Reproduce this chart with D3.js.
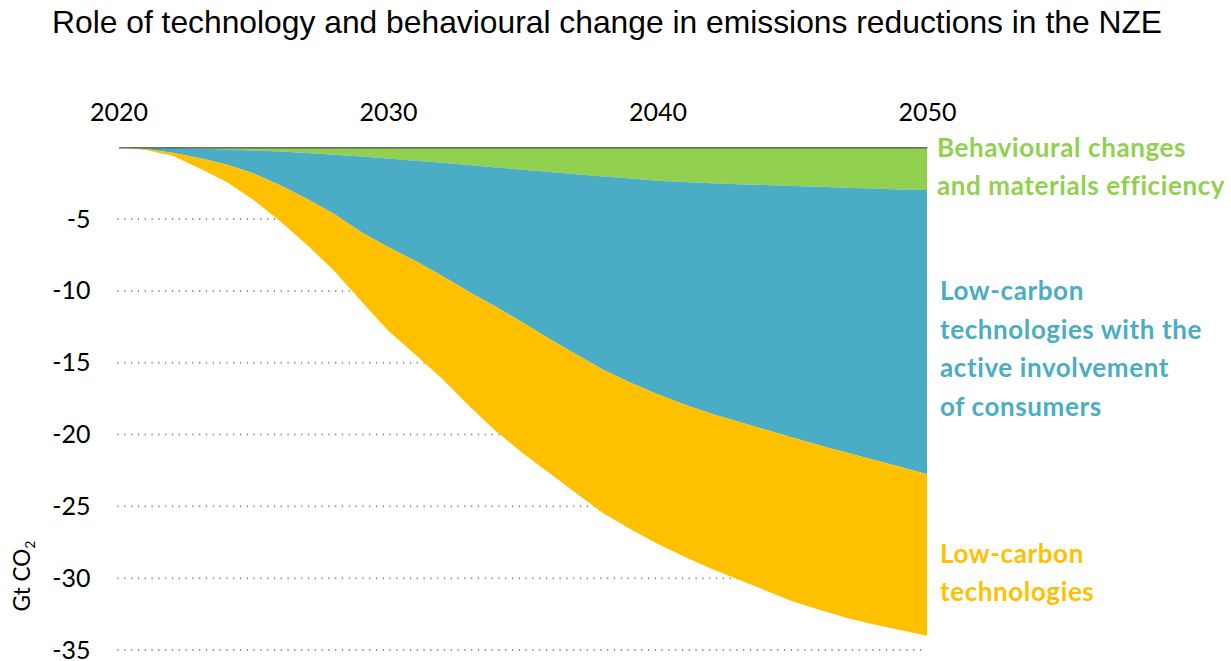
<!DOCTYPE html>
<html>
<head>
<meta charset="utf-8">
<script src="https://cdn.jsdelivr.net/npm/d3@7"></script>
<style>
  html, body { margin: 0; padding: 0; background: #fff; }
  svg { display: block; }
</style>
</head>
<body>
<svg id="chart" width="1231" height="661"></svg>
<script>
// Years covered by the scenario
const years = d3.range(2020, 2051);

// Annual emissions reductions by lever (Gt CO2, negative = reduction)
const behaviouralChanges = [0, -0.02, -0.05, -0.09, -0.15, -0.22, -0.30, -0.40, -0.52, -0.64, -0.78,
  -0.93, -1.08, -1.24, -1.40, -1.56, -1.72, -1.88, -2.03, -2.18, -2.33,
  -2.42, -2.50, -2.57, -2.63, -2.69, -2.75, -2.81, -2.87, -2.93, -2.98];
const consumerTechnologies = [0, -0.10, -0.33, -0.66, -1.04, -1.59, -2.35, -3.20, -4.13, -5.26, -6.17,
  -6.97, -7.87, -8.81, -9.70, -10.64, -11.63, -12.57, -13.47, -14.22, -14.87,
  -15.48, -16.05, -16.53, -17.02, -17.51, -18.00, -18.44, -18.88, -19.32, -19.79];
const lowCarbonTechnologies = [0, -0.06, -0.20, -0.70, -1.21, -1.84, -2.50, -3.20, -3.95, -4.80, -5.80,
  -6.50, -7.15, -7.95, -8.65, -9.10, -9.35, -9.65, -10.00, -10.20, -10.40,
  -10.60, -10.80, -11.00, -11.20, -11.40, -11.45, -11.50, -11.45, -11.35, -11.23];

// Axis ticks
const yearTicks = [2020, 2030, 2040, 2050];
const valueTicks = [-5, -10, -15, -20, -25, -30, -35];

// Series names, colours and label lines
const seriesKeys = ["behaviour", "consumer", "technology"];
const seriesColors = { behaviour: "#92d050", consumer: "#4bacc6", technology: "#ffc000" };
const seriesLabels = {
  behaviour: ["Behavioural changes", "and materials efficiency"],
  consumer: ["Low-carbon", "technologies with the", "active involvement", "of consumers"],
  technology: ["Low-carbon", "technologies"]
};

const rows = years.map((yr, i) => ({
  year: yr,
  behaviour: behaviouralChanges[i],
  consumer: consumerTechnologies[i],
  technology: lowCarbonTechnologies[i]
}));

const svg = d3.select("#chart");

const x = d3.scaleLinear().domain([2020, 2050]).range([118.5, 927]);
const y = d3.scaleLinear().domain([0, -35]).range([147.3, 650]);

// Title
svg.append("text")
  .attr("x", 52).attr("y", 33)
  .attr("font-family", "'Liberation Sans', Arial, sans-serif")
  .attr("font-size", 31.8)
  .attr("fill", "#000")
  .text("Role of technology and behavioural change in emissions reductions in the NZE");

// Dotted horizontal gridlines
svg.append("g")
  .selectAll("line")
  .data(valueTicks)
  .join("line")
  .attr("x1", x(2020) - 1).attr("x2", x(2050) - 2)
  .attr("y1", d => y(d)).attr("y2", d => y(d))
  .attr("stroke", "#8c8c8c")
  .attr("stroke-width", 2)
  .attr("stroke-dasharray", "1.2 5.6");

// Stacked areas
const stack = d3.stack().keys(seriesKeys).offset(d3.stackOffsetDiverging);
const layers = stack(rows);
const area = d3.area()
  .x(d => x(d.data.year))
  .y0(d => y(d[0]))
  .y1(d => y(d[1]));

svg.append("g")
  .selectAll("path")
  .data(layers)
  .join("path")
  .attr("fill", d => seriesColors[d.key])
  .attr("d", area);

// Top year axis
const xAxis = svg.append("g")
  .attr("transform", `translate(0,${y(0)})`)
  .call(d3.axisTop(x).tickValues(yearTicks).tickFormat(d3.format("d")).tickSize(0).tickPadding(26));
xAxis.select(".domain").attr("stroke", "#555").attr("stroke-width", 1.3);
xAxis.selectAll("text")
  .attr("font-family", "Lato, 'Open Sans', sans-serif")
  .attr("font-size", 25)
  .attr("fill", "#000");

// Left value axis
const yAxis = svg.append("g")
  .attr("transform", `translate(${x(2020)},0)`)
  .call(d3.axisLeft(y).tickValues(valueTicks).tickFormat(d => String(d)).tickSize(0).tickPadding(28));
yAxis.select(".domain").remove();
yAxis.selectAll("text")
  .attr("font-family", "Lato, 'Open Sans', sans-serif")
  .attr("font-size", 25)
  .attr("fill", "#000");

// Unit label
const unit = svg.append("text")
  .attr("transform", "translate(30,576) rotate(-90)")
  .attr("text-anchor", "middle")
  .attr("font-family", "Lato, 'Open Sans', sans-serif")
  .attr("font-size", 22.5)
  .attr("fill", "#000");
unit.append("tspan").text("Gt CO");
unit.append("tspan").attr("font-size", 14).attr("dy", 5).text("2");

// Series labels at the right end
const labelPos = {
  behaviour: { x: 937, y: 157 },
  consumer: { x: 940, y: 300 },
  technology: { x: 940, y: 563 }
};
const lineStep = { behaviour: 37.5, consumer: 38.5, technology: 37.5 };

seriesKeys.forEach(k => {
  const t = svg.append("text")
    .attr("x", labelPos[k].x)
    .attr("y", labelPos[k].y)
    .attr("font-family", "Lato, 'Open Sans', sans-serif")
    .attr("font-weight", "bold")
    .attr("font-size", 26)
    .attr("letter-spacing", 0.6)
    .attr("fill", seriesColors[k]);
  seriesLabels[k].forEach((line, i) => {
    t.append("tspan")
      .attr("x", labelPos[k].x)
      .attr("y", labelPos[k].y + i * lineStep[k])
      .text(line);
  });
});
</script>
</body>
</html>
